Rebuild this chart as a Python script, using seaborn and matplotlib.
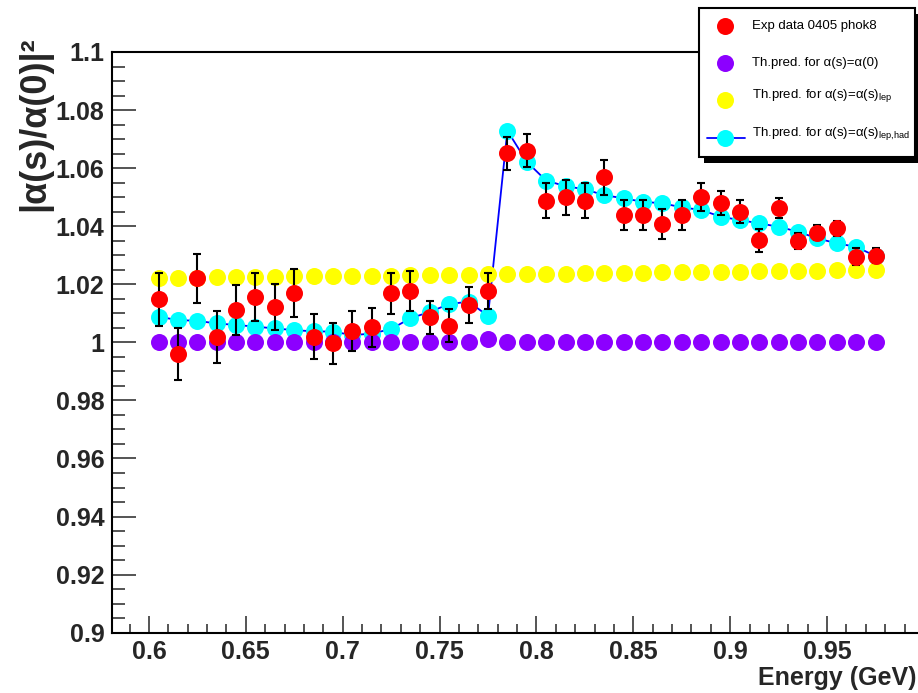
import matplotlib
matplotlib.use("Agg")
import matplotlib.pyplot as plt
from matplotlib.ticker import MultipleLocator, FuncFormatter
from matplotlib.patches import Rectangle
import seaborn as sns

# Beam energy of each measurement (GeV)
energy = [0.605, 0.615, 0.625, 0.635, 0.645, 0.655, 0.665, 0.675, 0.685, 0.695,
          0.705, 0.715, 0.725, 0.735, 0.745, 0.755, 0.765, 0.775, 0.785, 0.795,
          0.805, 0.815, 0.825, 0.835, 0.845, 0.855, 0.865, 0.875, 0.885, 0.895,
          0.905, 0.915, 0.925, 0.935, 0.945, 0.955, 0.965, 0.975]

# Measured |alpha(s)/alpha(0)|^2 and its uncertainty
exp_val = [1.0148, 0.9960, 1.0220, 1.0019, 1.0111, 1.0157, 1.0121, 1.0169, 1.0019, 0.9997,
           1.0039, 1.0052, 1.0169, 1.0177, 1.0086, 1.0057, 1.0128, 1.0178, 1.0651, 1.0660,
           1.0488, 1.0500, 1.0488, 1.0568, 1.0439, 1.0439, 1.0408, 1.0439, 1.0500, 1.0479,
           1.0450, 1.0352, 1.0462, 1.0349, 1.0378, 1.0393, 1.0295, 1.0298]
exp_err = [0.0092, 0.0089, 0.0086, 0.0090, 0.0086, 0.0083, 0.0080, 0.0082, 0.0078, 0.0070,
           0.0070, 0.0068, 0.0071, 0.0070, 0.0058, 0.0057, 0.0061, 0.0062, 0.0057, 0.0057,
           0.0060, 0.0060, 0.0060, 0.0060, 0.0052, 0.0052, 0.0052, 0.0052, 0.0048, 0.0041,
           0.0040, 0.0040, 0.0035, 0.0028, 0.0026, 0.0026, 0.0030, 0.0026]

# Theory: no running
th_const = [1.0, 1.0, 1.0, 1.0, 1.0, 1.0, 1.0, 1.0, 1.0, 1.0,
            1.0, 1.0, 1.0, 1.0, 1.0, 1.0, 1.0, 1.0011, 1.0, 1.0,
            1.0, 1.0, 1.0, 1.0, 1.0, 1.0, 1.0, 1.0, 1.0, 1.0,
            1.0, 1.0, 1.0, 1.0, 1.0, 1.0, 1.0, 1.0]

# Theory: leptonic running only
th_lep = [1.0222, 1.0223, 1.0223, 1.0224, 1.0225, 1.0225, 1.0226, 1.0227, 1.0227, 1.0228,
          1.0229, 1.0229, 1.0230, 1.0231, 1.0231, 1.0232, 1.0233, 1.0234, 1.0235, 1.0236,
          1.0236, 1.0237, 1.0238, 1.0239, 1.0239, 1.0240, 1.0241, 1.0242, 1.0242, 1.0243,
          1.0244, 1.0245, 1.0245, 1.0246, 1.0247, 1.0248, 1.0248, 1.0249]

# Theory: leptonic + hadronic running
th_lephad = [1.0088, 1.0077, 1.0074, 1.0065, 1.0060, 1.0054, 1.0048, 1.0042, 1.0038, 1.0037,
             1.0025, 1.0030, 1.0046, 1.0083, 1.0105, 1.0132, 1.0140, 1.0091, 1.0729, 1.0622,
             1.0557, 1.0538, 1.0527, 1.0507, 1.0496, 1.0484, 1.0479, 1.0465, 1.0456, 1.0433,
             1.0421, 1.0410, 1.0398, 1.0381, 1.0358, 1.0341, 1.0329, 1.0297]

legend_labels = ["Exp data 0405 phok8",
                 "Th.pred. for α(s)=α(0)",
                 "Th.pred. for α(s)=α(s)$_{\\rm lep}$",
                 "Th.pred. for α(s)=α(s)$_{\\rm lep{,}had}$"]

RED = "#ff0000"
VIOLET = "#8c00ff"
YELLOW = "#ffff00"
CYAN = "#00ffff"
BLUE = "#0000ff"

sns.set_style("ticks")
plt.rcParams["font.family"] = ["Liberation Sans", "DejaVu Sans"]
plt.rcParams["mathtext.fontset"] = "custom"
plt.rcParams["mathtext.rm"] = "Liberation Sans"

W, H = 918, 693
fig = plt.figure(figsize=(W / 100, H / 100), dpi=100)
fig.patch.set_facecolor("white")

x_left, x_right, y_top, y_bot = 111.5, 924.0, 52.0, 632.7
ax = fig.add_axes([x_left / W, 1 - y_bot / H, (x_right - x_left) / W, (y_bot - y_top) / H])
ax.set_facecolor("white")

MS = 150  # marker area in pt^2

sns.lineplot(x=energy, y=th_lephad, color=BLUE, linewidth=1.3, sort=False, ax=ax, zorder=2)
sns.scatterplot(x=energy, y=th_lephad, color=CYAN, s=MS, linewidth=0, ax=ax, zorder=3)
sns.scatterplot(x=energy, y=th_const, color=VIOLET, s=MS, linewidth=0, ax=ax, zorder=4)
sns.scatterplot(x=energy, y=th_lep, color=YELLOW, s=MS, linewidth=0, ax=ax, zorder=4)
ax.errorbar(energy, exp_val, yerr=exp_err, fmt="none", ecolor="black",
            elinewidth=1.5, capsize=2.6, capthick=1.5, zorder=5)
sns.scatterplot(x=energy, y=exp_val, color=RED, s=MS, linewidth=0, ax=ax, zorder=6)

ax.set_xlim(0.5807, 1.0)
ax.set_ylim(0.9, 1.1)
ax.set_xlabel("")
ax.set_ylabel("")

fmt = FuncFormatter(lambda v, p: "%g" % round(v, 4))
ax.xaxis.set_major_locator(MultipleLocator(0.05))
ax.xaxis.set_minor_locator(MultipleLocator(0.01))
ax.yaxis.set_major_locator(MultipleLocator(0.02))
ax.yaxis.set_minor_locator(MultipleLocator(0.005))
ax.xaxis.set_major_formatter(fmt)
ax.yaxis.set_major_formatter(fmt)

for s in ax.spines.values():
    s.set_linewidth(1.5)
    s.set_color("black")

ax.tick_params(axis="x", which="major", direction="in", length=12, width=1.1, pad=5,
               labelsize=18, top=False)
ax.tick_params(axis="x", which="minor", direction="in", length=6.5, width=1.1, top=False)
ax.tick_params(axis="y", which="major", direction="in", length=17, width=1.1, pad=5,
               labelsize=18, right=False)
ax.tick_params(axis="y", which="minor", direction="in", length=9, width=1.1, right=False)
for lab in ax.get_xticklabels() + ax.get_yticklabels():
    lab.set_fontweight("bold")

fig.text(35 / W, 1 - 36 / H, "|α(s)/α(0)|²", rotation=90, ha="center", va="top",
         fontsize=26, fontweight="bold")
fig.text(917 / W, 1 - 678 / H, "Energy (GeV)", ha="right", va="center",
         fontsize=18, fontweight="bold")

# Legend box drawn in pixel coordinates
lax = fig.add_axes([0, 0, 1, 1], zorder=10)
lax.set_xlim(0, W)
lax.set_ylim(H, 0)
lax.axis("off")
bx0, by0, bx1, by1 = 699, 8, 915, 157
lax.add_patch(Rectangle((bx0 + 5, by0 + 6), bx1 - bx0, by1 - by0, facecolor="black",
                        edgecolor="none"))
lax.add_patch(Rectangle((bx0, by0), bx1 - bx0, by1 - by0, facecolor="white",
                        edgecolor="black", linewidth=1.5))
rows = [26, 63, 100, 138]
colors = [RED, VIOLET, YELLOW, CYAN]
for i, (yy, c, lab) in enumerate(zip(rows, colors, legend_labels)):
    if i == 3:
        lax.plot([707, 745], [yy, yy], color=BLUE, linewidth=1.3)
    lax.scatter([725], [yy], s=MS, color=c, linewidth=0, zorder=3)
    ty = yy if i < 2 else yy - 4
    lax.text(752, ty, lab, fontsize=9.5, ha="left", va="center", color="black")

fig.savefig("out.png", dpi=100)
